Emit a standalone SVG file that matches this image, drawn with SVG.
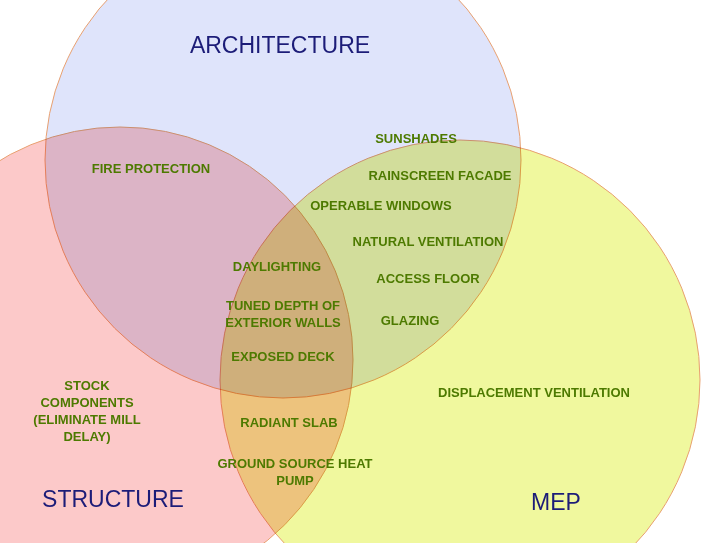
<svg xmlns="http://www.w3.org/2000/svg" width="720" height="543" viewBox="0 0 720 543">
<style>
.c{stroke:#e8a070;stroke-width:1;mix-blend-mode:multiply}
.t{font-family:"Liberation Sans",Arial,sans-serif;font-weight:bold;font-size:13px;fill:#4d7a00;text-anchor:middle}
.h{font-family:"Liberation Sans",Arial,sans-serif;font-size:23px;fill:#1c1c78;text-anchor:middle}
</style>
<rect width="720" height="543" fill="#fff"/>
<g id="architecture"><circle class="c" cx="283" cy="160" r="238" fill="#dfe4fb"/></g>
<g id="structure"><circle class="c" cx="120" cy="360" r="233" fill="#fcc9c9"/></g>
<g id="mep"><circle class="c" cx="460" cy="380" r="240" fill="#f0f89e"/></g>
<g id="connectors"></g>
<g id="labels">
<text class="h" x="280" y="53">ARCHITECTURE</text>
<text class="h" x="113" y="507">STRUCTURE</text>
<text class="h" x="556" y="510">MEP</text>
<text class="t" x="416" y="143">SUNSHADES</text>
<text class="t" x="440" y="180">RAINSCREEN FACADE</text>
<text class="t" x="151" y="173">FIRE PROTECTION</text>
<text class="t" x="381" y="210">OPERABLE WINDOWS</text>
<text class="t" x="428" y="246">NATURAL VENTILATION</text>
<text class="t" x="428" y="283">ACCESS FLOOR</text>
<text class="t" x="410" y="325">GLAZING</text>
<text class="t" x="277" y="271">DAYLIGHTING</text>
<text class="t" x="283" y="310">TUNED DEPTH OF</text>
<text class="t" x="283" y="327">EXTERIOR WALLS</text>
<text class="t" x="283" y="361">EXPOSED DECK</text>
<text class="t" x="534" y="397">DISPLACEMENT VENTILATION</text>
<text class="t" x="87" y="390">STOCK</text>
<text class="t" x="87" y="407">COMPONENTS</text>
<text class="t" x="87" y="424">(ELIMINATE MILL</text>
<text class="t" x="87" y="441">DELAY)</text>
<text class="t" x="289" y="427">RADIANT SLAB</text>
<text class="t" x="295" y="468">GROUND SOURCE HEAT</text>
<text class="t" x="295" y="485">PUMP</text>
</g>
</svg>
